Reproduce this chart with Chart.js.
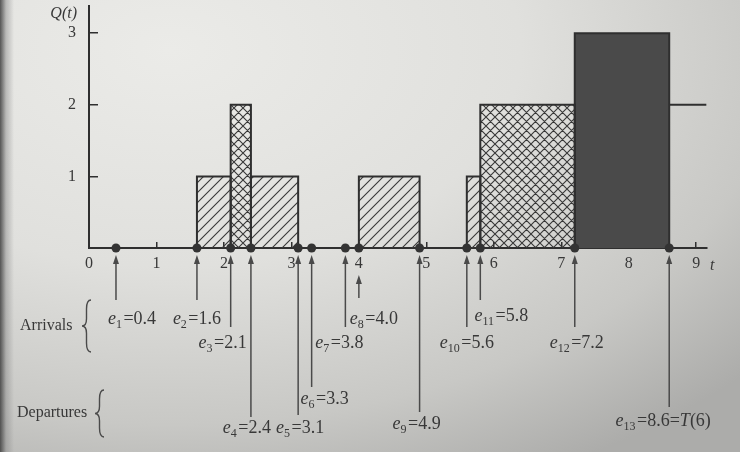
<!DOCTYPE html>
<html><head><meta charset="utf-8">
<script src="https://cdn.jsdelivr.net/npm/chart.js@4.4.1/dist/chart.umd.min.js"></script>
<style>
html,body{margin:0;padding:0;}
body{width:740px;height:452px;overflow:hidden;
background:
 linear-gradient(90deg, rgba(60,60,60,0.85) 0px, rgba(130,130,130,0.45) 6px, rgba(0,0,0,0) 14px),
 radial-gradient(ellipse 780px 480px at 170px 50px, #ebebe8 0%, #e0e0dd 45%, #c8c8c5 78%, #acacaa 100%);}
#wrap{position:relative;width:740px;height:452px;}
</style></head><body>
<div id="wrap"><canvas id="c" width="740" height="452"></canvas></div>
<script>
// ---- data ----
const stepTimes    = [0, 1.6, 2.1, 2.4, 3.1, 4.0, 4.9, 5.6, 5.8, 7.2, 8.6];
const queueLengths = [0, 1,   2,   1,   0,   1,   0,   1,   2,   3,   2];
const runEnd  = 8.6;   // T(6)
const plotEnd = 9.15;  // step line drawn on to here
const eventTimes = [0.4, 1.6, 2.1, 2.4, 3.1, 3.3, 3.8, 4.0, 4.9, 5.6, 5.8, 7.2, 8.6];
const eventKinds = ['A','A','A','D','D','D','A','A','D','A','A','A','D'];
const eventNotes = ['','','','','','','','','','','','','=T(6)'];
const xTickValues = [0,1,2,3,4,5,6,7,8,9];
const yTickValues = [1,2,3];
const groupLabels = ['Arrivals','Departures'];

// ---- styles ----
const INK = '#2f2f2f', TEXT = '#383838', LINE = '#4a4a4a';
const SERIF = '"Liberation Serif","Times New Roman",serif';

function makePattern(kind){
  const s = kind === 'cross' ? 9 : 10;
  const c = document.createElement('canvas'); c.width = s; c.height = s;
  const g = c.getContext('2d');
  g.strokeStyle = '#383838'; g.lineWidth = 1.1;
  g.beginPath();
  g.moveTo(-1, s+1); g.lineTo(s+1, -1);
  g.moveTo(-1, 1); g.lineTo(1, -1);
  g.moveTo(s-1, s+1); g.lineTo(s+1, s-1);
  if (kind === 'cross'){
    g.moveTo(-1, -1); g.lineTo(s+1, s+1);
    g.moveTo(s-1, -1); g.lineTo(s+1, 1);
    g.moveTo(-1, s-1); g.lineTo(1, s+1);
  }
  g.stroke();
  return document.getElementById('c').getContext('2d').createPattern(c, 'repeat');
}
const fills = {1: makePattern('diag'), 2: makePattern('cross'), 3: '#4a4a4a'};

// ---- datasets built from data ----
const datasets = [];
datasets.push({
  type:'scatter', order:-1, clip:false,
  data: eventTimes.map(t => ({x:t, y:0})),
  pointRadius:4.5, pointBackgroundColor:'#333', pointBorderWidth:0
});
for (let i = 0; i < stepTimes.length; i++){
  const a = stepTimes[i], b = (i+1 < stepTimes.length) ? stepTimes[i+1] : plotEnd, v = queueLengths[i];
  if (v <= 0) continue;
  if (b <= runEnd){
    datasets.push({type:'line', data:[{x:a,y:0},{x:a,y:v},{x:b,y:v},{x:b,y:0}],
      fill:'origin', backgroundColor: fills[v], borderColor:INK, borderWidth:2,
      pointRadius:0, tension:0, borderJoinStyle:'miter', clip:false});
  } else {
    datasets.push({type:'line', data:[{x:a,y:v},{x:b,y:v}], fill:false,
      borderColor:INK, borderWidth:2, pointRadius:0, clip:false});
  }
}

// ---- annotation layout (pixel offsets below the t axis) ----
// [arrowTip, lineEnd, labelCenterY, labelDx]
const arrowLayout = [
  [7,52,70,16],[7,52,70,0],[7,79,94,-8],[7,169,179,-4],[7,167,179,2],[7,139,150,13],
  [7,79,94,-6],[27,50,70,15],[7,164,175,-3],[7,79,94,0],[7,52,67,21],[7,79,94,2],[7,159,172,-6]
];

function drawELabel(ctx, n, val, note, cx, cy){
  const fMain = '18px '+SERIF, fIt = 'italic 18px '+SERIF, fSub = '12px '+SERIF;
  ctx.font = fIt; const w1 = ctx.measureText('e').width;
  ctx.font = fSub; const w2 = ctx.measureText(String(n)).width;
  ctx.font = fMain; const w3 = ctx.measureText('='+val).width;
  let w4 = 0, w5 = 0, w6 = 0;
  if (note){ w4 = ctx.measureText('=').width; ctx.font = fIt; w5 = ctx.measureText('T').width; ctx.font = fMain; w6 = ctx.measureText('(6)').width; }
  const gap = 1.5;
  const total = w1 + w2 + gap + w3 + w4 + w5 + w6;
  let xx = cx - total/2; const by = cy + 6;
  ctx.textAlign = 'left'; ctx.textBaseline = 'alphabetic'; ctx.fillStyle = TEXT;
  ctx.font = fIt; ctx.fillText('e', xx, by); xx += w1;
  ctx.font = fSub; ctx.fillText(String(n), xx, by + 4); xx += w2 + gap;
  ctx.font = fMain; ctx.fillText('='+val, xx, by); xx += w3;
  if (note){
    ctx.fillText('=', xx, by); xx += w4;
    ctx.font = fIt; ctx.fillText('T', xx, by); xx += w5;
    ctx.font = fMain; ctx.fillText('(6)', xx, by);
  }
}
function drawBrace(ctx, x, y0, y1, w){
  const m = (y0 + y1)/2, xm = x + w/2;
  ctx.beginPath();
  ctx.moveTo(x + w, y0);
  ctx.quadraticCurveTo(xm, y0, xm, y0 + w);
  ctx.lineTo(xm, m - w*0.8);
  ctx.quadraticCurveTo(xm, m, x, m);
  ctx.quadraticCurveTo(xm, m, xm, m + w*0.8);
  ctx.lineTo(xm, y1 - w);
  ctx.quadraticCurveTo(xm, y1, x + w, y1);
  ctx.stroke();
}

const annot = {
  id:'annot',
  afterDraw(chart){
    const {ctx, chartArea, scales:{x}} = chart;
    const base = chartArea.bottom;
    ctx.save();
    eventTimes.forEach((t, i) => {
      const px = x.getPixelForValue(t);
      const [tip, end, ly, dx] = arrowLayout[i];
      ctx.fillStyle = LINE;
      ctx.beginPath(); ctx.moveTo(px, base + tip); ctx.lineTo(px - 3, base + tip + 9); ctx.lineTo(px + 3, base + tip + 9); ctx.closePath(); ctx.fill();
      ctx.strokeStyle = LINE; ctx.lineWidth = 1.5;
      ctx.beginPath(); ctx.moveTo(px, base + tip + 6); ctx.lineTo(px, base + end); ctx.stroke();
      drawELabel(ctx, i + 1, t.toFixed(1), eventNotes[i], px + dx, base + ly);
    });
    // group labels and braces
    ctx.fillStyle = TEXT; ctx.font = '16px '+SERIF; ctx.textAlign = 'left'; ctx.textBaseline = 'alphabetic';
    ctx.fillText(groupLabels[0], 20, base + 82);
    ctx.fillText(groupLabels[1], 17, base + 169);
    ctx.strokeStyle = LINE; ctx.lineWidth = 1.4;
    drawBrace(ctx, 82, base + 52, base + 104, 9);
    drawBrace(ctx, 95, base + 142, base + 189, 9);
    // axis titles
    ctx.font = 'italic 16px '+SERIF; ctx.textAlign = 'right';
    ctx.fillText('Q(t)', chartArea.left - 12, chartArea.top + 12);
    ctx.textAlign = 'left';
    ctx.fillText('t', chartArea.right + 3, base + 22);
    ctx.restore();
  }
};

new Chart(document.getElementById('c'), {
  data: { datasets },
  options: {
    responsive:false, animation:false, events:[],
    layout:{ autoPadding:false, padding:{left:0, right:33, top:6, bottom:182} },
    plugins:{ legend:{display:false}, tooltip:{enabled:false} },
    scales:{
      x:{ type:'linear', position:'bottom', min:0, max:9.16,
        afterBuildTicks: s => { s.ticks = xTickValues.map(v => ({value:v})); },
        afterFit: s => { s.height = 22; s.paddingLeft = 0; s.paddingRight = 0; s.paddingTop = 0; s.paddingBottom = 0; },
        grid:{ display:true, drawOnChartArea:false, drawTicks:true, tickLength:-6, color:INK, lineWidth:1.5 },
        border:{ display:true, color:INK, width:2 },
        ticks:{ padding:12, autoSkip:false, maxRotation:0, color:TEXT, font:{family:SERIF, size:16} }
      },
      y:{ type:'linear', position:'left', min:0, max:3.38,
        afterBuildTicks: s => { s.ticks = yTickValues.map(v => ({value:v})); },
        afterFit: s => { s.width = 89; s.paddingTop = 0; s.paddingBottom = 0; s.paddingLeft = 0; s.paddingRight = 0; },
        grid:{ display:true, drawOnChartArea:false, drawTicks:true, tickLength:-9, color:INK, lineWidth:1.5 },
        border:{ display:true, color:INK, width:2 },
        ticks:{ padding:22, color:TEXT, font:{family:SERIF, size:16} }
      }
    }
  },
  plugins:[annot]
});
</script></body></html>
